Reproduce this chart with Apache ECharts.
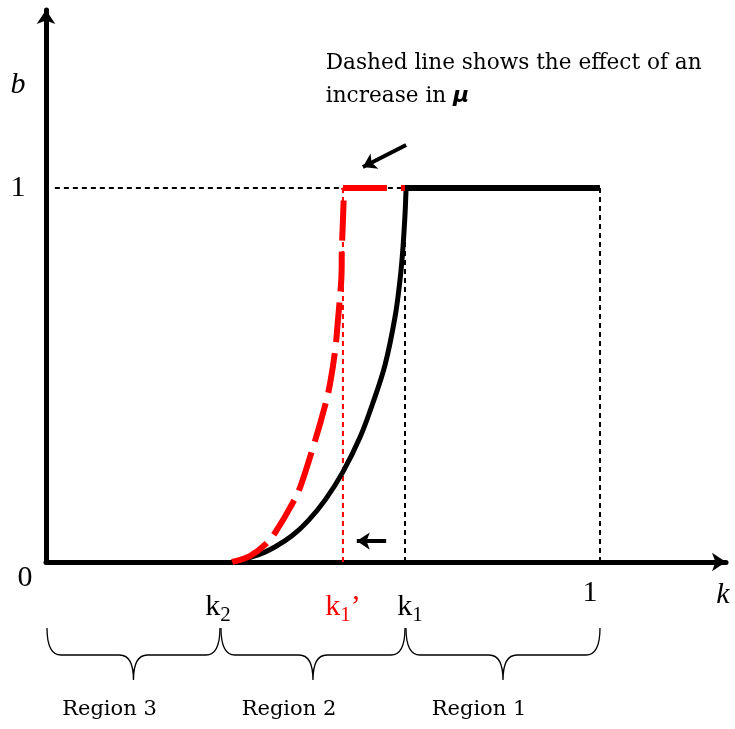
<!DOCTYPE html>
<html><head><meta charset="utf-8">
<script src="https://cdn.jsdelivr.net/npm/echarts@6/dist/echarts.min.js"></script>
<style>html,body{margin:0;padding:0;background:#fff}#c{width:735px;height:729px}</style>
</head><body><div id="c"></div>
<script>
// threshold values on the k axis
const k2 = 0.314, k1p = 0.536, k1 = 0.648;
// solid black b(k) curve
const blackK = [0.336, 0.383, 0.413, 0.444, 0.473, 0.504, 0.536, 0.567, 0.590, 0.612, 0.630, 0.639, 0.644, 0.648, 0.650];
const blackB = [0, 0.019, 0.040, 0.070, 0.110, 0.166, 0.241, 0.334, 0.425, 0.527, 0.655, 0.754, 0.834, 0.928, 1.0];
const blackFlatK = [0.648, 1.0];
const blackFlatB = [1.0, 1.0];
// dashed red curve after increase in mu
const redK = [0.336, 0.368, 0.399, 0.419, 0.440, 0.459, 0.486, 0.504, 0.513, 0.522, 0.527, 0.533, 0.534, 0.536, 0.538];
const redB = [0, 0.016, 0.051, 0.091, 0.144, 0.201, 0.326, 0.420, 0.479, 0.567, 0.647, 0.754, 0.834, 0.914, 1.0];
const redFlatK = [0.536, 0.648];
const redFlatB = [1.0, 1.0];
// region braces
const regionEdges = [0, k2, k1, 1];
const regionNames = ['Region 3', 'Region 2', 'Region 1'];
// annotation
const noteText = ['Dashed line shows the effect of an', 'increase in '];
const noteSymbol = 'μ';
const noteAnchor = [0.505, 1.289];
const shiftArrow = [[0.614, 0.056], [0.561, 0.056]];
const noteArrow = [[0.650, 1.115], [0.572, 1.056]];
const bLabelLevel = 1.275;
const kLabelPos = 1.222;

const SERIF = "'Liberation Serif','DejaVu Serif',serif";
const WIDE = "'DejaVu Serif','Liberation Serif',serif";
const toPairs = (xs, ys) => xs.map((x, i) => [x, ys[i]]);

const textItems = [
  {v: [0, 0], text: '0', dx: -21, dy: 16, size: 30},
  {v: [0, 1], text: '1', dx: -28, dy: 0, size: 30},
  {v: [0, bLabelLevel], text: 'b', dx: -28, dy: 0, size: 30, italic: true},
  {v: [1, 0], text: '1', dx: -10, dy: 31, size: 30},
  {v: [kLabelPos, 0], text: 'k', dx: 0, dy: 33, size: 30, italic: true},
  {v: [k2, 0], text: '{m|k}{s|2}', dx: -2, dy: 45, size: 30, color: '#000'},
  {v: [k1p, 0], text: "{m|k}{s|1}{m|’}", dx: 0, dy: 45, size: 30, color: '#ff0000'},
  {v: [k1, 0], text: '{m|k}{s|1}', dx: 5, dy: 45, size: 30, color: '#000'}
];

const chart = echarts.init(document.getElementById('c'));
const dashedRef = (pts, color) => ({
  type: 'line', data: pts, symbol: 'none', silent: true, z: 2,
  lineStyle: {color: color, width: 2, type: [5, 4]}
});
const flat = (xs, ys, color, width, type, z) => ({
  type: 'line', data: toPairs(xs, ys), symbol: 'none', silent: true, z: z,
  lineStyle: {color: color, width: width, type: type, cap: 'butt'}
});
// smooth curve through the data points, positions mapped by the axes (Catmull-Rom)
const smoothCurve = (xs, ys, color, width, dash, z) => ({
  type: 'custom', silent: true, clip: false, z: z,
  data: [[xs[0], ys[0]]],
  renderItem: function (params, api) {
    const p = xs.map((x, i) => api.coord([x, ys[i]]));
    let d = `M${p[0][0]},${p[0][1]}`;
    for (let i = 0; i < p.length - 1; i++) {
      const a = p[Math.max(i - 1, 0)], b = p[i], c = p[i + 1], e = p[Math.min(i + 2, p.length - 1)];
      const c1 = [b[0] + (c[0] - a[0]) / 6, b[1] + (c[1] - a[1]) / 6];
      const c2 = [c[0] - (e[0] - b[0]) / 6, c[1] - (e[1] - b[1]) / 6];
      d += ` C${c1[0]},${c1[1]} ${c2[0]},${c2[1]} ${c[0]},${c[1]}`;
    }
    return {type: 'path', shape: {pathData: d},
      style: {fill: 'none', stroke: color, lineWidth: width, lineDash: dash, lineCap: 'butt'}};
  }
});

chart.setOption({
  animation: false,
  backgroundColor: '#fff',
  grid: {left: 46, top: 10, width: 680, height: 552},
  xAxis: {
    type: 'value', min: 0, max: 680 / 554,
    splitLine: {show: false}, axisTick: {show: false}, axisLabel: {show: false},
    axisLine: {show: true, onZero: true, symbol: ['none', 'arrow'], symbolSize: [14, 14],
      lineStyle: {color: '#000', width: 5}}
  },
  yAxis: {
    type: 'value', min: 0, max: 552 / 374,
    splitLine: {show: false}, axisTick: {show: false}, axisLabel: {show: false},
    axisLine: {show: true, onZero: true, symbol: ['none', 'arrow'], symbolSize: [14, 14],
      lineStyle: {color: '#000', width: 5}}
  },
  series: [
    dashedRef([[0.016, 1], [k1, 1]], '#000'),
    dashedRef([[k1, 0], [k1, 1]], '#000'),
    dashedRef([[1, 0], [1, 1]], '#000'),
    dashedRef([[k1p, 0], [k1p, 1]], '#ff0000'),
    smoothCurve(blackK, blackB, '#000', 5, null, 3),
    flat(blackFlatK, blackFlatB, '#000', 6, 'solid', 3),
    smoothCurve(redK, redB, '#ff0000', 6, [40, 11], 4),
    flat(redFlatK, redFlatB, '#ff0000', 6, [44, 14], 4),
    {
      type: 'lines', coordinateSystem: 'cartesian2d', silent: true, z: 5,
      symbol: ['none', 'arrow'], symbolSize: 13,
      lineStyle: {color: '#000', width: 4, opacity: 1},
      data: [{coords: shiftArrow}, {coords: noteArrow}]
    },
    {
      type: 'custom', silent: true, clip: false, z: 6,
      data: regionNames.map((n, i) => [regionEdges[i], regionEdges[i + 1], i]),
      renderItem: function (params, api) {
        const s = api.value(0), e = api.value(1), i = api.value(2);
        const p0 = api.coord([s, 0]), p1 = api.coord([e, 0]);
        const x0 = p0[0] + 1, x1 = p1[0], xm = (x0 + x1) / 2;
        const y0 = p0[1] + 66, ym = p0[1] + 93, yt = p0[1] + 118;
        const d = `M${x0},${y0} Q${x0},${ym} ${x0 + 14},${ym} L${xm - 14},${ym} Q${xm},${ym} ${xm},${yt} ` +
          `Q${xm},${ym} ${xm + 14},${ym} L${x1 - 14},${ym} Q${x1},${ym} ${x1},${y0}`;
        return {
          type: 'group',
          children: [
            {type: 'path', shape: {pathData: d}, style: {fill: 'none', stroke: '#000', lineWidth: 1.3}},
            {type: 'text', x: xm - 24, y: p0[1] + 148,
              style: {text: regionNames[i], fill: '#000', font: `21px ${WIDE}`, align: 'center', verticalAlign: 'middle'}}
          ]
        };
      }
    },
    {
      type: 'custom', silent: true, clip: false, z: 7,
      data: textItems.map((t, i) => [t.v[0], t.v[1], i]),
      renderItem: function (params, api) {
        const t = textItems[api.value(2)];
        const p = api.coord([api.value(0), api.value(1)]);
        const style = {
          text: t.text, fill: t.color || '#000', align: 'center', verticalAlign: 'middle',
          font: `${t.italic ? 'italic ' : ''}${t.size}px ${SERIF}`
        };
        if (t.text.indexOf('{') === 0) {
          style.rich = {
            m: {fontSize: t.size, fontFamily: SERIF, fill: t.color, color: t.color},
            s: {fontSize: 21, fontFamily: SERIF, fill: t.color, color: t.color, padding: [17, 0, 0, 0]}
          };
        }
        return {type: 'text', x: p[0] + t.dx, y: p[1] + t.dy, style: style};
      }
    },
    {
      type: 'custom', silent: true, clip: false, z: 7,
      data: [[noteAnchor[0], noteAnchor[1]]],
      renderItem: function (params, api) {
        const p = api.coord([api.value(0), api.value(1)]);
        return {
          type: 'text', x: p[0], y: p[1],
          style: {
            text: noteText[0] + '\n' + noteText[1] + '{mu|' + noteSymbol + '}',
            fill: '#000', font: `21.6px ${WIDE}`, align: 'left', verticalAlign: 'middle',
            lineHeight: 33,
            rich: {mu: {fontSize: 22, fontFamily: "'DejaVu Sans', sans-serif", fontWeight: 'bold', fontStyle: 'italic', lineHeight: 33}}
          }
        };
      }
    }
  ]
});
</script></body></html>
